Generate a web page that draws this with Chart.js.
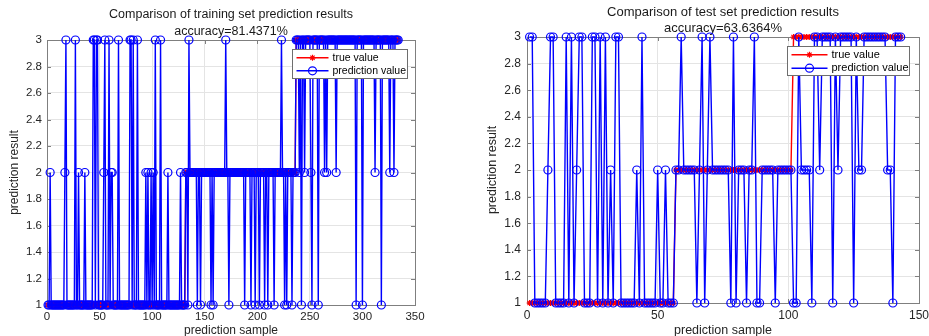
<!DOCTYPE html>
<html>
<head>
<meta charset="utf-8">
<script src="https://cdn.jsdelivr.net/npm/chart.js@4.4.0/dist/chart.umd.min.js"></script>
<style>
  html, body { margin: 0; padding: 0; background: #fff; overflow: hidden; width: 929px; height: 336px; }
  canvas { position: absolute; top: 0; }
  #trainChart { left: 0; }
  #testChart { left: 460px; }
</style>
</head>
<body>
<canvas id="trainChart" width="462" height="340"></canvas>
<canvas id="testChart" width="526" height="340"></canvas>
<script>
"use strict";

// values, one digit per sample (spaces only group by 10)
const digits = (s) => s.replace(/\s/g, "").split("").map(Number);

const trainTrue = digits(
  "1111111111 1111111111 1111111111 1111111111 1111111111 " +
  "1111111111 1111111111 1111111111 1111111111 1111111111 " +
  "1111111111 1111111111 1111111111 1222222222 2222222222 " +
  "2222222222 2222222222 2222222222 2222222222 2222222222 " +
  "2222222222 2222222222 2222222222 2222223333 3333333333 " +
  "3333333333 3333333333 3333333333 3333333333 3333333333 " +
  "3333333333 3333333333 3333333333 3333"
);
const trainPred = digits(
  "1121111111 1111112311 1111113112 1111121111 1113313311 " +
  "1112311131 2211111311 1111111133 1311131111 1112121121 " +
  "2131111311 1111211111 1111112111 1221322222 2212212222 " +
  "2222212122 2222222223 2212222222 2222222122 2221222122 " +
  "2122221221 2222212222 2232212122 2212223332 3133233333 " +
  "2133333133 3332323333 3333233333 3333333333 3331333331 " +
  "3333333333 3233333133 3333323332 3333"
);
const testTrue = digits(
  "1111111111 1111111111 1111111111 1111111111 1111111111 " +
  "1111112222 2222222222 2222222222 2222222222 2222222222 " +
  "2333333333 3333333333 3333333333 3333333333 333"
);
const testPred = digits(
  "3311111233 1111313123 3111331313 1213311111 1213111112 " +
  "1121112232 2222123123 2222222131 2221223112 2222122222 " +
  "2113222213 3233331323 3333132233 3333333221 333"
);

const trainXTicks = [0, 50, 100, 150, 200, 250, 300, 350];
const testXTicks = [0, 50, 100, 150];
const yTicks = [1, 1.2, 1.4, 1.6, 1.8, 2, 2.2, 2.4, 2.6, 2.8, 3];
const seriesLabels = ["true value", "prediction value"];

const FONT = "'Liberation Sans', Arial, Helvetica, sans-serif";
Chart.defaults.font.family = FONT;

// matlab style axes box with inward ticks
const matlabBox = {
  id: "matlabBox",
  beforeDatasetsDraw(chart) {
    const { ctx, chartArea: a, scales } = chart;
    const tl = 4;
    ctx.save();
    ctx.strokeStyle = "#7f7f7f";
    ctx.lineWidth = 1;
    ctx.strokeRect(a.left + 0.5, a.top + 0.5, a.right - a.left, a.bottom - a.top);
    ctx.beginPath();
    scales.x.ticks.forEach((t) => {
      const px = Math.round(scales.x.getPixelForValue(t.value)) + 0.5;
      ctx.moveTo(px, a.bottom);
      ctx.lineTo(px, a.bottom - tl);
      ctx.moveTo(px, a.top);
      ctx.lineTo(px, a.top + tl);
    });
    scales.y.ticks.forEach((t) => {
      const py = Math.round(scales.y.getPixelForValue(t.value)) + 0.5;
      ctx.moveTo(a.left, py);
      ctx.lineTo(a.left + tl, py);
      ctx.moveTo(a.right, py);
      ctx.lineTo(a.right - tl, py);
    });
    ctx.stroke();
    ctx.restore();
  },
};

const matlabLegend = {
  id: "matlabLegend",
  afterDraw(chart, args, opts) {
    const { ctx, chartArea: a } = chart;
    const x0 = Math.round(a.right - opts.right - opts.width) + 0.5;
    const y0 = Math.round(a.top + opts.top) + 0.5;
    ctx.save();
    ctx.fillStyle = "#fff";
    ctx.fillRect(x0, y0, opts.width, opts.height);
    ctx.strokeStyle = "#6e6e6e";
    ctx.lineWidth = 1;
    ctx.strokeRect(x0, y0, opts.width, opts.height);

    chart.data.datasets.forEach((ds, i) => {
      const cy = y0 + opts.rows[i];
      const lx = x0 + 4;
      const mx = lx + opts.lineLen / 2;
      ctx.strokeStyle = ds.borderColor;
      ctx.lineWidth = ds.borderWidth;
      ctx.beginPath();
      ctx.moveTo(lx, cy);
      ctx.lineTo(lx + opts.lineLen, cy);
      ctx.stroke();
      ctx.lineWidth = ds.pointBorderWidth;
      ctx.beginPath();
      if (ds.pointStyle === "circle") {
        ctx.arc(mx, cy, ds.pointRadius, 0, Math.PI * 2);
      } else {
        const r = ds.pointRadius;
        const d = r * Math.SQRT1_2;
        ctx.moveTo(mx - r, cy); ctx.lineTo(mx + r, cy);
        ctx.moveTo(mx, cy - r); ctx.lineTo(mx, cy + r);
        ctx.moveTo(mx - d, cy - d); ctx.lineTo(mx + d, cy + d);
        ctx.moveTo(mx - d, cy + d); ctx.lineTo(mx + d, cy - d);
      }
      ctx.stroke();
      ctx.fillStyle = "#000";
      ctx.font = opts.fontSize + "px " + FONT;
      ctx.textBaseline = "middle";
      ctx.textAlign = "left";
      ctx.fillText(ds.label, lx + opts.lineLen + 4, cy);
    });
    ctx.restore();
  },
};

const toPoints = (vals) => vals.map((v, i) => ({ x: i + 1, y: v }));

function buildChart(canvasId, cfg) {
  const ctx = document.getElementById(canvasId).getContext("2d");

  const chartConfig = {
    type: "line",
    data: {
      datasets: [
        {
          label: seriesLabels[0],
          data: toPoints(cfg.trueVals),
          borderColor: "#ff0000",
          pointBorderColor: "#ff0000",
          pointBackgroundColor: "#ff0000",
          pointStyle: "star",
          pointRadius: 3,
          pointBorderWidth: 1.2,
          borderWidth: 1.4,
          order: 1,
          clip: false,
        },
        {
          label: seriesLabels[1],
          data: toPoints(cfg.predVals),
          borderColor: "#0000ff",
          pointBorderColor: "#0000ff",
          pointBackgroundColor: "rgba(0,0,0,0)",
          pointStyle: "circle",
          pointRadius: 4,
          pointBorderWidth: 1.2,
          borderWidth: 1.4,
          order: 0,
          clip: false,
        },
      ],
    },
    options: {
      responsive: false,
      animation: false,
      devicePixelRatio: 1,
      layout: { padding: 0 },
      plugins: {
        legend: { display: false },
        tooltip: { enabled: false },
        title: {
          display: true,
          text: cfg.title,
          color: "#1a1a1a",
          font: { size: cfg.titleSize, weight: "normal", lineHeight: cfg.titleLineHeight },
          padding: cfg.titlePadding,
        },
        matlabLegend: cfg.legend,
      },
      scales: {
        x: {
          type: "linear",
          min: 0,
          max: cfg.xMax,
          afterBuildTicks: (s) => {
            s.ticks = cfg.xTicks.map((v) => ({ value: v }));
          },
          afterFit: (s) => {
            s.height = cfg.xAxisHeight;
          },
          ticks: {
            color: "#262626",
            padding: cfg.xTickPad,
            maxRotation: 0,
            autoSkip: false,
            font: { size: cfg.tickSize },
            callback: (v) => String(v),
          },
          grid: { color: "#e4e4e4", drawTicks: false },
          border: { display: false },
          title: {
            display: true,
            text: "prediction sample",
            color: "#262626",
            font: { size: cfg.axisTitleSize },
            padding: { top: 0, bottom: cfg.xTitlePad },
          },
        },
        y: {
          min: 1,
          max: 3,
          afterBuildTicks: (s) => {
            s.ticks = yTicks.map((v) => ({ value: v }));
          },
          afterFit: (s) => {
            s.width = cfg.yAxisWidth;
          },
          ticks: {
            color: "#262626",
            padding: cfg.yTickPad,
            font: { size: cfg.tickSize },
            callback: (v) => String(Math.round(v * 10) / 10),
          },
          grid: { color: "#e4e4e4", drawTicks: false },
          border: { display: false },
          title: {
            display: true,
            text: "prediction result",
            color: "#262626",
            font: { size: cfg.axisTitleSize },
            padding: { top: cfg.yTitlePad, bottom: 0 },
          },
        },
        y2: {
          position: "right",
          grid: { display: false },
          ticks: { display: false },
          border: { display: false },
          afterFit: (s) => {
            s.width = cfg.rightMargin;
          },
        },
      },
    },
    plugins: [matlabBox, matlabLegend],
  };

  return new Chart(ctx, chartConfig);
}

buildChart("trainChart", {
  trueVals: trainTrue,
  predVals: trainPred,
  xMax: 350,
  xTicks: trainXTicks,
  title: ["Comparison of training set prediction results", "accuracy=81.4371%"],
  titleSize: 12.5,
  titleLineHeight: "17px",
  titlePadding: { top: 6, bottom: 0 },
  tickSize: 11.5,
  axisTitleSize: 12,
  xAxisHeight: 35,
  xTickPad: 5,
  xTitlePad: 1.8,
  yAxisWidth: 47,
  yTickPad: 5,
  yTitlePad: 7.8,
  rightMargin: 47,
  legend: { right: 8, top: 9, width: 115, height: 29, lineLen: 32, rows: [8.3, 21.3], fontSize: 10.5 },
});

buildChart("testChart", {
  trueVals: testTrue,
  predVals: testPred,
  xMax: 150,
  xTicks: testXTicks,
  title: ["Comparison of test set prediction results", "accuracy=63.6364%"],
  titleSize: 13,
  titleLineHeight: "16.3px",
  titlePadding: { top: 3.8, bottom: 0.6 },
  tickSize: 12,
  axisTitleSize: 12.5,
  xAxisHeight: 37,
  xTickPad: 5.8,
  xTitlePad: 1.5,
  yAxisWidth: 67,
  yTickPad: 6,
  yTitlePad: 25.5,
  rightMargin: 67,
  legend: { right: 10, top: 9, width: 122, height: 29, lineLen: 36, rows: [8.3, 21.7], fontSize: 11 },
});
</script>
</body>
</html>
